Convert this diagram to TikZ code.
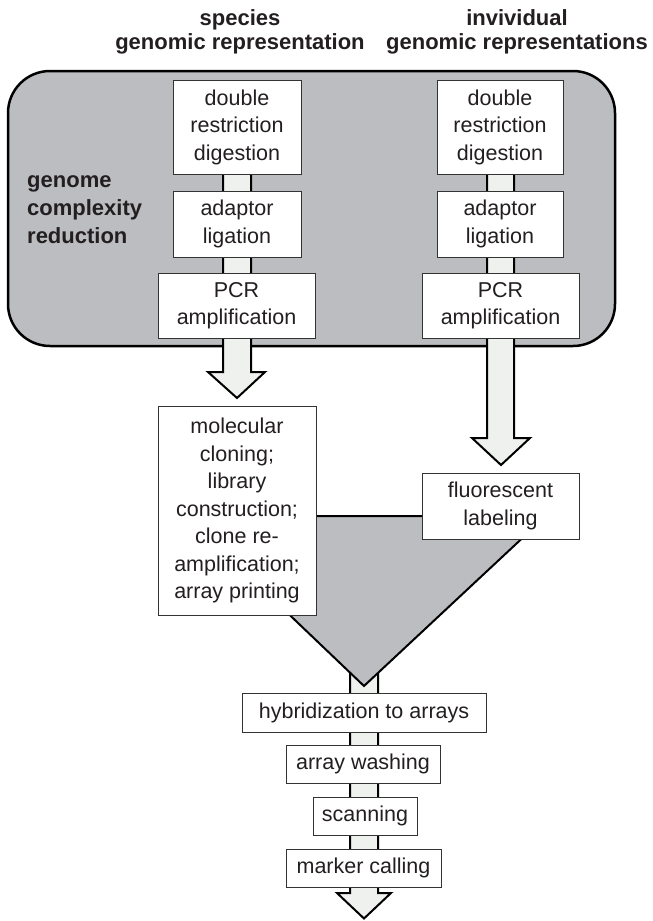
\documentclass[tikz,border=0pt]{standalone}
\usepackage{fontspec}
\setmainfont{Liberation Sans}
\definecolor{panelgray}{HTML}{BCBDC0}
\definecolor{arrowfill}{HTML}{EFF1EF}
\definecolor{ink}{HTML}{231F20}
\newcommand\boxfont{\fontsize{21.5}{27.5}\selectfont}
\newcommand\headfont{\fontsize{22}{24.5}\selectfont\bfseries}
\newcommand\sidefont{\fontsize{22}{28}\selectfont\bfseries}
\begin{document}
\begin{tikzpicture}[x=1pt,y=-1pt,
  stagebox/.style={draw=black!80, line width=0.9pt, fill=white, align=center,
    inner sep=0pt, font=\boxfont, text=ink},
  bigarrow/.style={fill=arrowfill, draw=black, line width=2pt, line join=miter},
  panel/.style={fill=panelgray, draw=black, line width=2.5pt},
  headtext/.style={align=center, font=\headfont, text=ink, inner sep=0pt}]
\useasboundingbox (0,0) rectangle (653,921);

% headings
\node[headtext] (hleft) at (240,32) {species\\genomic representation};
\node[headtext] (hright) at (517,32) {invividual\\genomic representations};

% grey panel
\draw[panel, rounded corners=42pt] (8,71) rectangle (615,346);
\node[anchor=west, align=left, font=\sidefont, text=ink, inner sep=0pt] (gcr) at (27,210)
  {genome\\complexity\\reduction};

% funnel connector arrow below (drawn first, funnel covers it)
\draw[bigarrow] (350,650) -- (350,893) -- (337,893) -- (364,918.5) -- (391,893) -- (378,893) -- (378,650);

% column arrows
\draw[bigarrow] (223,150) -- (223,372) -- (208,372) -- (237,398) -- (265,372) -- (251,372) -- (251,150);
\draw[bigarrow] (487,150) -- (487,438) -- (472,438) -- (501,465) -- (530,438) -- (514,438) -- (514,150);

% funnel
\draw[fill=panelgray, draw=black, line width=2pt, line join=miter]
  (186,516) -- (546,516) -- (364,686) -- cycle;

% left column
\node[stagebox, minimum width=128pt, minimum height=94pt] (L1) at (237,127) {double\\restriction\\digestion};
\node[stagebox, minimum width=128pt, minimum height=66pt] (L2) at (237,224) {adaptor\\ligation};
\node[stagebox, minimum width=157pt, minimum height=65pt] (L3) at (236.5,305.5) {PCR\\amplification};

% right column
\node[stagebox, minimum width=126pt, minimum height=94pt] (R1) at (500,127) {double\\restriction\\digestion};
\node[stagebox, minimum width=126pt, minimum height=66pt] (R2) at (500,224) {adaptor\\ligation};
\node[stagebox, minimum width=157pt, minimum height=65pt] (R3) at (500.5,305.5) {PCR\\amplification};

% middle
\node[stagebox, minimum width=158pt, minimum height=209pt] (M) at (237,510.5)
  {molecular\\cloning;\\library\\construction;\\clone re-\\amplification;\\array printing};
\node[stagebox, minimum width=157pt, minimum height=66pt] (F) at (500.5,506) {fluorescent\\labeling};

% bottom chain
\node[stagebox, minimum width=244pt, minimum height=39pt] (H) at (364,712.5) {hybridization to arrays};
\node[stagebox, minimum width=154pt, minimum height=38pt] (W) at (363,764) {array washing};
\node[stagebox, minimum width=104pt, minimum height=38pt] (S) at (365,816) {scanning};
\node[stagebox, minimum width=155pt, minimum height=38pt] (C) at (363.5,868) {marker calling};
\end{tikzpicture}
\end{document}
